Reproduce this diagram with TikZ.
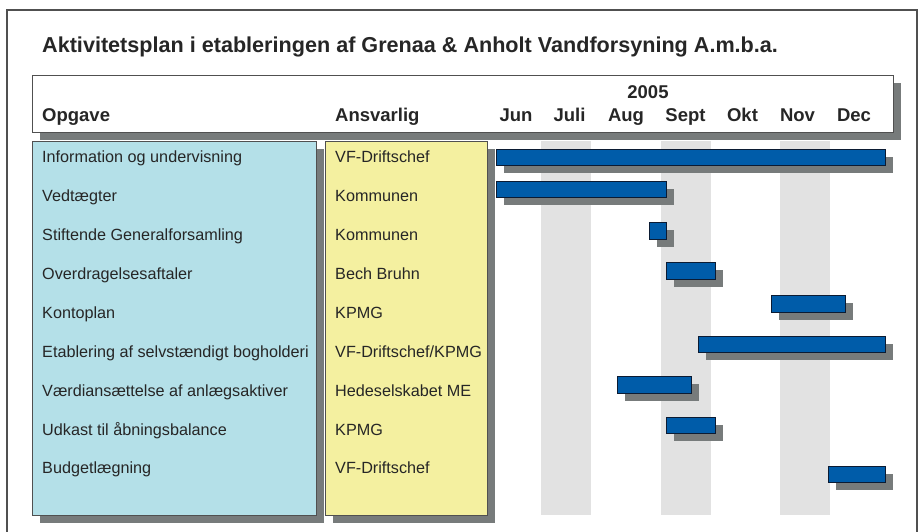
\documentclass[tikz,border=0pt]{standalone}
\usepackage{fontspec}
\setmainfont{Liberation Sans}
\definecolor{framegrey}{HTML}{505050}
\definecolor{shadegrey}{HTML}{777B7B}
\definecolor{taskblue}{HTML}{B4E0E8}
\definecolor{ownyellow}{HTML}{F4F0A0}
\definecolor{barblue}{HTML}{005CA9}
\definecolor{barline}{HTML}{0B1B33}
\definecolor{monthgrey}{HTML}{E2E2E2}
\definecolor{textgrey}{HTML}{262626}
\tikzset{
  panel/.style={draw=framegrey, line width=0.8pt},
  dropshade/.style={fill=shadegrey},
  titletext/.style={anchor=base west, inner sep=0pt, font=\bfseries\fontsize{21.6}{25}\selectfont, text=textgrey},
  headtext/.style={anchor=base west, inner sep=0pt, font=\bfseries\fontsize{18.5}{22}\selectfont, text=textgrey},
  monthtext/.style={headtext, anchor=base},
  rowtext/.style={anchor=base west, inner sep=0pt, font=\fontsize{16.2}{19}\selectfont, text=textgrey},
  ganttbar/.style={fill=barblue, draw=barline, line width=0.9pt}
}
\begin{document}
\begin{tikzpicture}[x=1pt,y=-1pt]
  \clip (0,0) rectangle (922,532);
  % outer frame
  \draw[framegrey, line width=1.2pt] (7,10) rectangle (917,560);
  \node[titletext] (title) at (42,53) {Aktivitetsplan i etableringen af Grenaa \& Anholt Vandforsyning A.m.b.a.};

  % header
  \fill[dropshade] (40,83) rectangle (901,140);
  \draw[panel, fill=white] (32,75) rectangle (893,132);
  \node[headtext] (opgave) at (42,122) {Opgave};
  \node[headtext] (ansvar) at (335,122) {Ansvarlig};
  \node[monthtext] (year) at (648,99) {2005};
  \foreach \mx/\mname in {516/Jun, 569.5/Juli, 626/Aug, 685.5/Sept, 742.5/Okt, 797.5/Nov, 854/Dec}
    \node[monthtext] (m-\mname) at (\mx,122) {\mname};

  % month stripes
  \foreach \sa/\sb in {541/591, 661/711, 780/830}
    \fill[monthgrey] (\sa,141) rectangle (\sb,515);

  % columns
  \fill[dropshade] (40,149) rectangle (324,523);
  \draw[panel, fill=taskblue] (32,141) rectangle (316,515);
  \fill[dropshade] (333,149) rectangle (495,523);
  \draw[panel, fill=ownyellow] (325,141) rectangle (487,515);

  \foreach \task/\who [count=\i] in {
      Information og undervisning/VF-Driftschef,
      Vedtægter/Kommunen,
      Stiftende Generalforsamling/Kommunen,
      Overdragelsesaftaler/Bech Bruhn,
      Kontoplan/KPMG,
      Etablering af selvstændigt bogholderi/VF-Driftschef\slash KPMG,
      Værdiansættelse af anlægsaktiver/Hedeselskabet ME,
      Udkast til åbningsbalance/KPMG,
      Budgetlægning/VF-Driftschef} {
    \node[rowtext] (task-\i) at (42,{162.7+38.9*(\i-1)}) {\task};
    \node[rowtext] (who-\i) at (335,{162.7+38.9*(\i-1)}) {\who};
  }

  % bars
  \foreach \xa/\ya/\xb/\yb in {496/149/885/165, 496/181/666/197, 649/222/666/239,
      666/262/715/279, 771/295/845/312, 698/336/885/352, 617/376/691/393,
      666/417/715/433, 828/466/885/482} {
    \fill[dropshade] (\xa+8,\ya+8) rectangle (\xb+8,\yb+8);
    \draw[ganttbar] (\xa,\ya) rectangle (\xb,\yb);
  }
\end{tikzpicture}
\end{document}
